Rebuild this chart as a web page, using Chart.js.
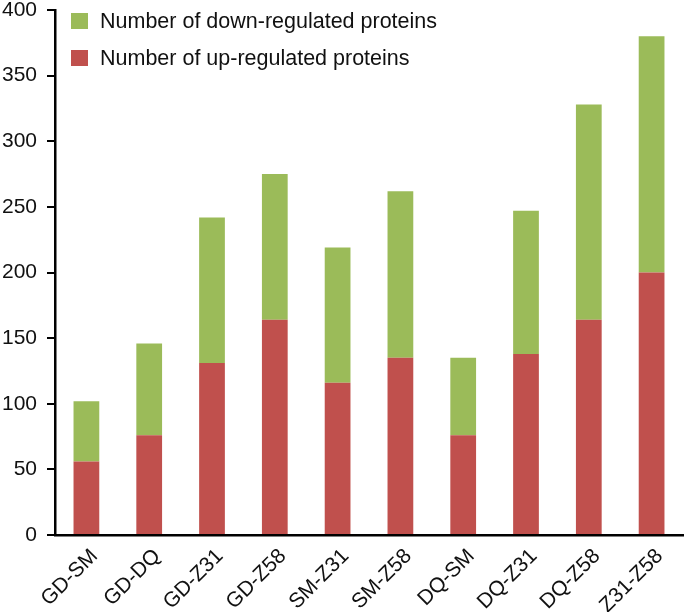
<!DOCTYPE html>
<html>
<head>
<meta charset="utf-8">
<script src="https://cdn.jsdelivr.net/npm/chart.js@4"></script>
<style>
  html, body { margin: 0; padding: 0; background: #fff; }
  #wrap { position: relative; width: 685px; height: 612px; }
</style>
</head>
<body>
<div id="wrap"><canvas id="chart"></canvas></div>
<script>
const categories = ['GD-SM', 'GD-DQ', 'GD-Z31', 'GD-Z58', 'SM-Z31', 'SM-Z58', 'DQ-SM', 'DQ-Z31', 'DQ-Z58', 'Z31-Z58'];
const upRegulated = [56, 76, 131, 164, 116, 135, 76, 138, 164, 200];
const downRegulated = [46, 70, 111, 111, 103, 127, 59, 109, 164, 180];
const yTicks = [0, 50, 100, 150, 200, 250, 300, 350, 400];

const FONT = 'Liberation Sans, Arial, sans-serif';

// legend drawn inside the plot, top-left, green entry first
const insideLegend = {
  id: 'insideLegend',
  afterDraw(chart) {
    const ctx = chart.ctx;
    const items = chart.data.datasets.slice().reverse();
    ctx.save();
    ctx.font = '21.5px ' + FONT;
    ctx.textBaseline = 'middle';
    items.forEach((ds, i) => {
      const y = 21 + i * 37;
      ctx.fillStyle = ds.backgroundColor;
      ctx.fillRect(71, y - 8, 17, 16);
      ctx.fillStyle = '#111';
      ctx.fillText(ds.label, 100, y + 1);
    });
    ctx.restore();
  }
};

new Chart(document.getElementById('chart'), {
  type: 'bar',
  data: {
    labels: categories,
    datasets: [{
      label: 'Number of up-regulated proteins',
      data: upRegulated,
      backgroundColor: '#C0504D',
      categoryPercentage: 1,
      barPercentage: 0.41,
    }, {
      label: 'Number of down-regulated proteins',
      data: downRegulated,
      backgroundColor: '#9BBB59',
      categoryPercentage: 1,
      barPercentage: 0.41,
    }]
  },
  options: {
    responsive: true,
    maintainAspectRatio: false,
    animation: false,
    layout: { padding: { top: 10, right: 2, left: 0, bottom: 0 } },
    plugins: { legend: { display: false }, tooltip: { enabled: false } },
    scales: {
      x: {
        stacked: true,
        afterFit: axis => { axis.height = 77; },
        grid: { display: false },
        border: { display: true, color: '#000', width: 2.5 },
        ticks: {
          color: '#111',
          font: { family: FONT, size: 21 },
          maxRotation: 45,
          minRotation: 45,
          padding: 1,
          labelOffset: 8,
        },
      },
      y: {
        stacked: true,
        min: 0,
        max: 400,
        afterBuildTicks: axis => { axis.ticks = yTicks.map(v => ({ value: v })); },
        afterFit: axis => {
          axis.width = 55;
          axis.paddingTop = 0;
          axis.paddingBottom = 0;
        },
        grid: {
          display: true,
          drawOnChartArea: false,
          drawTicks: true,
          tickLength: 8,
          color: '#000',
          lineWidth: 2,
        },
        border: { display: true, color: '#000', width: 2.5 },
        ticks: {
          color: '#111',
          font: { family: FONT, size: 21 },
          padding: 10,
        },
      }
    }
  },
  plugins: [insideLegend]
});
</script>
</body>
</html>
